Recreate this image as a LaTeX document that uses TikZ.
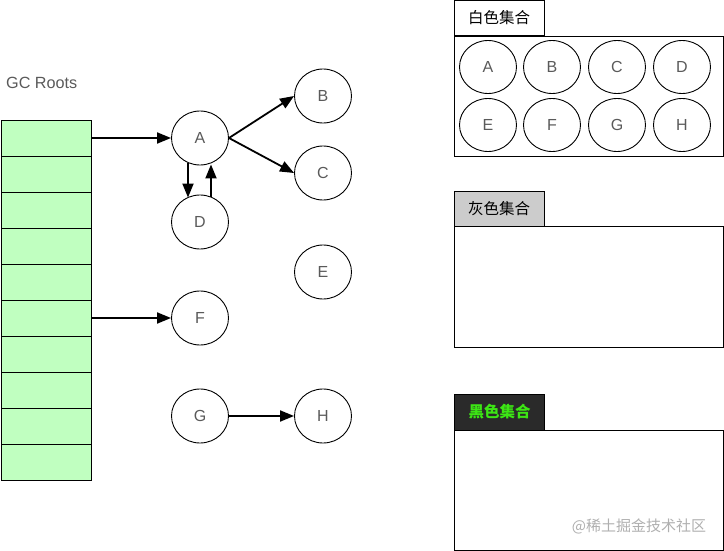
\documentclass[tikz,border=0pt]{standalone}
\usepackage{fontspec}
\setmainfont{Liberation Sans}
\newfontfamily\cjk{Noto Sans CJK SC}
\usetikzlibrary{shapes.geometric,arrows.meta}
\definecolor{rootgreen}{RGB}{192,255,192}
\definecolor{lettergray}{RGB}{90,90,90}
\definecolor{tabgray}{RGB}{204,204,204}
\definecolor{tabdark}{RGB}{42,42,42}
\definecolor{tabgreen}{RGB}{60,230,20}
\definecolor{wmgray}{RGB}{175,175,175}
\tikzset{
  obj/.style={ellipse,draw=black,line width=0.9pt,minimum width=57pt,minimum height=54pt,inner sep=0pt,
    font=\fontsize{16}{19}\selectfont,text=lettergray},
  setobj/.style={obj,minimum width=57pt,minimum height=53pt},
  cell/.style={rectangle,draw=black,line width=0.9pt,fill=rootgreen,minimum width=90pt,minimum height=36pt,inner sep=0pt},
  ref/.style={line width=1.8pt,-{Triangle[length=14pt,width=11pt]}},
  tab/.style={rectangle,draw=black,line width=0.9pt,minimum width=90pt,minimum height=35pt,inner sep=0pt,font=\cjk\fontsize{15.5}{18}\selectfont},
  setbox/.style={draw=black,line width=0.9pt}
}
\begin{document}
\begin{tikzpicture}[x=1pt,y=-1pt]
\useasboundingbox (0,0) rectangle (724,551);
% GC roots label
\node[anchor=west,text=lettergray,font=\fontsize{16.2}{19}\selectfont,inner sep=0pt] (gclabel) at (6,83) {GC Roots};
% root cells
\foreach \i in {1,...,10}{
  \node[cell] (r\i) at (46,{138+36*(\i-1)}) {};
}
% graph objects
\node[obj] (A) at (200,138) {A};
\node[obj] (B) at (323,96) {B};
\node[obj] (C) at (323,173) {C};
\node[obj] (D) at (200,222) {D};
\node[obj] (E) at (323,272) {E};
\node[obj] (F) at (200,318) {F};
\node[obj] (G) at (200,416) {G};
\node[obj] (H) at (323,416) {H};
% references
\draw[ref] (r1.east) -- (A.west);
\draw[ref] (r6.east) -- (F.west);
\draw[ref] (A.east) -- (B.west);
\draw[ref] (A.east) -- (C.west);
\draw[ref] ([xshift=-12pt,yshift=2pt]A.south) -- ([xshift=-12pt,yshift=-3pt]D.north);
\draw[ref] ([xshift=11pt,yshift=-2pt]D.north) -- ([xshift=11pt,yshift=1pt]A.south);
\draw[ref] (G.east) -- (H.west);
% white set
\node[tab] (wtab) at (499,18) {白色集合};
\draw[setbox] (454,36) rectangle (723,156);
\node[setobj] (wA) at (488,67) {A};
\node[setobj] (wB) at (552,67) {B};
\node[setobj] (wC) at (617,67) {C};
\node[setobj] (wD) at (682,67) {D};
\node[setobj] (wE) at (488,125) {E};
\node[setobj] (wF) at (552,125) {F};
\node[setobj] (wG) at (617,125) {G};
\node[setobj] (wH) at (682,125) {H};
% gray set
\node[tab,fill=tabgray] (gtab) at (499,209) {灰色集合};
\draw[setbox] (454,226.5) rectangle (723,347);
% black set
\node[tab,fill=tabdark,text=tabgreen,minimum height=36pt] (btab) at (499.5,412) {\bfseries 黑色集合};
\draw[setbox] (454,430) rectangle (723,550);
% watermark
\node[text=wmgray,font=\cjk\fontsize{15}{18}\selectfont,inner sep=0pt] (wm) at (639,526) {@稀土掘金技术社区};
\end{tikzpicture}
\end{document}
